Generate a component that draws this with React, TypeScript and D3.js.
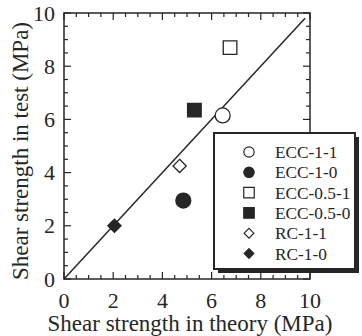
import React from "react";
import * as d3 from "d3";

// specimen names
const series = ["ECC-1-1", "ECC-1-0", "ECC-0.5-1", "ECC-0.5-0", "RC-1-1", "RC-1-0"];
// shear strength in theory (MPa)
const theory = [6.45, 4.85, 6.75, 5.3, 4.7, 2.05];
// shear strength in test (MPa)
const test = [6.15, 2.95, 8.7, 6.35, 4.25, 2.0];
const shapes = ["circle", "circle", "square", "square", "diamond", "diamond"];
const filled = [false, true, false, true, false, true];
const tickLabels = [0, 2, 4, 6, 8, 10];

const ink = "#262626";
const font = "Liberation Serif, DejaVu Serif, serif";

const symType = (s: string) =>
  s === "circle" ? d3.symbolCircle : s === "square" ? d3.symbolSquare : d3.symbolDiamond2;

const App = () => {
  const width = 362;
  const height = 336;
  const x = d3.scaleLinear().domain([0, 10]).range([64, 310]);
  const y = d3.scaleLinear().domain([0, 10]).range([279, 13]);

  const minor = d3.range(0, 10.01, 0.5);
  const plotSize = { circle: 175, square: 185, diamond: 112 };
  const legSize = { circle: 85, square: 110, diamond: 60 };

  const path = (s: string, size: number) =>
    d3.symbol().type(symType(s)).size(size)() || "";

  const leg = { x: 214, y: 133, w: 141, h: 136 };
  const txt = { fontFamily: font, fill: ink };

  return (
    <svg width={width} height={height} style={{ position: "absolute", left: 0, top: 0, background: "white" }}>
      <rect width={width} height={height} fill="white" />
      {/* frame */}
      <rect x={x(0)} y={y(10)} width={x(10) - x(0)} height={y(0) - y(10)} fill="none" stroke={ink} strokeWidth={1.5} />
      {/* inward ticks on all sides */}
      {minor.map((v, i) => {
        const len = i % 4 === 0 ? 7 : 4;
        return (
          <g key={i} stroke={ink} strokeWidth={1.2}>
            <line x1={x(v)} x2={x(v)} y1={y(0)} y2={y(0) - len} />
            <line x1={x(v)} x2={x(v)} y1={y(10)} y2={y(10) + len} />
            <line x1={x(0)} x2={x(0) + len} y1={y(v)} y2={y(v)} />
            <line x1={x(10)} x2={x(10) - len} y1={y(v)} y2={y(v)} />
          </g>
        );
      })}
      {/* tick labels */}
      {tickLabels.map((t) => (
        <text key={"x" + t} x={x(t)} y={308} textAnchor="middle" fontSize={22} style={txt}>
          {t}
        </text>
      ))}
      {tickLabels.map((t) => (
        <text key={"y" + t} x={55} y={y(t) + 7.5} textAnchor="end" fontSize={22} style={txt}>
          {t}
        </text>
      ))}
      {/* axis titles */}
      <text x={190} y={331} textAnchor="middle" fontSize={23} style={txt}>
        Shear strength in theory (MPa)
      </text>
      <text transform="translate(28,151) rotate(-90)" textAnchor="middle" fontSize={23} style={txt}>
        Shear strength in test (MPa)
      </text>
      {/* 1:1 line */}
      <line x1={x(0)} y1={y(0)} x2={x(9.8)} y2={y(9.8)} stroke={ink} strokeWidth={1.5} />
      {/* points */}
      {series.map((s, i) => (
        <path
          key={s}
          d={path(shapes[i], plotSize[shapes[i]])}
          transform={`translate(${x(theory[i])},${y(test[i])})`}
          fill={filled[i] ? ink : "white"}
          stroke={ink}
          strokeWidth={1.3}
        />
      ))}
      {/* legend with drop shadow */}
      <rect x={leg.x + 4} y={leg.y + 4} width={leg.w} height={leg.h} fill={ink} />
      <rect x={leg.x} y={leg.y} width={leg.w} height={leg.h} fill="white" stroke={ink} strokeWidth={2} />
      {series.map((s, i) => {
        const cy = 152 + i * 20.3;
        return (
          <g key={"l" + s}>
            <path
              d={path(shapes[i], legSize[shapes[i]])}
              transform={`translate(249,${cy})`}
              fill={filled[i] ? ink : "white"}
              stroke={ink}
              strokeWidth={1.2}
            />
            <text x={275} y={cy + 6} fontSize={17.3} style={txt}>
              {s}
            </text>
          </g>
        );
      })}
    </svg>
  );
};

export default App;
